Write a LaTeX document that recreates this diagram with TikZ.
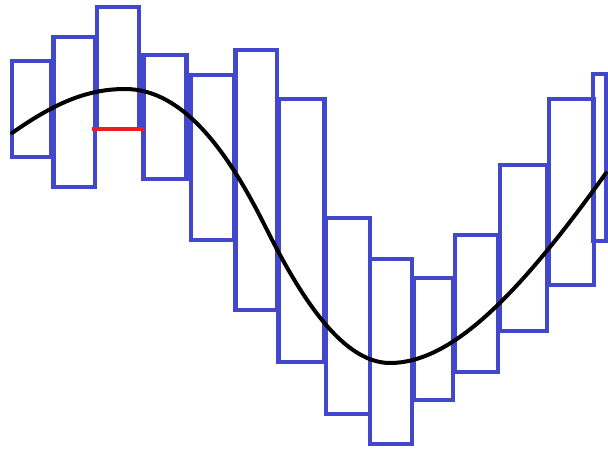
\documentclass[tikz,border=0pt]{standalone}
\usepackage{xcolor}
\usepackage{tikz}
\definecolor{barblue}{RGB}{66,72,204}
\definecolor{edgered}{RGB}{236,28,36}

\begin{document}
\begin{tikzpicture}[
    x=0.025cm, y=-0.025cm,
    bar/.style={draw=barblue, line width=0.1cm},
    edge/.style={draw=edgered, line width=0.1cm},
    graph/.style={draw=black, line width=0.1cm, line cap=round}
]
\useasboundingbox (0,0) rectangle (608,452);

% bars: left/top/right/bottom
\foreach \l/\t/\r/\b in {12/61.5/51/157, 53.5/37/95/187, 97/7/139/129.5,
    143.5/55/186.5/179, 191/75/234.5/240, 235.5/50/277/310,
    278.5/99.5/324.5/362, 326/218/370/414, 370/259/412/444,
    414/278/453/400, 455/235/498/372, 500/165/547/331,
    549/99/594/285, 593/74.5/606/241}
  \draw[bar] (\l,\t) rectangle (\r,\b);

% the function
\coordinate (start) at (12,133);
\coordinate (peak) at (125,89);
\coordinate (turn) at (265,226);
\coordinate (trough) at (390,363);
\coordinate (stop) at (606,173);
\draw[graph] (start) .. controls (52,105) and (85,89) .. (peak)
    .. controls (185,89) and (230,156) .. (turn)
    .. controls (297,290) and (340,363) .. (trough)
    .. controls (450,363) and (516,299) .. (stop);

\coordinate (redL) at (92,129.5);
\coordinate (redR) at (144,129.5);
\draw[edge] (redL) -- (redR);
\end{tikzpicture}
\end{document}
